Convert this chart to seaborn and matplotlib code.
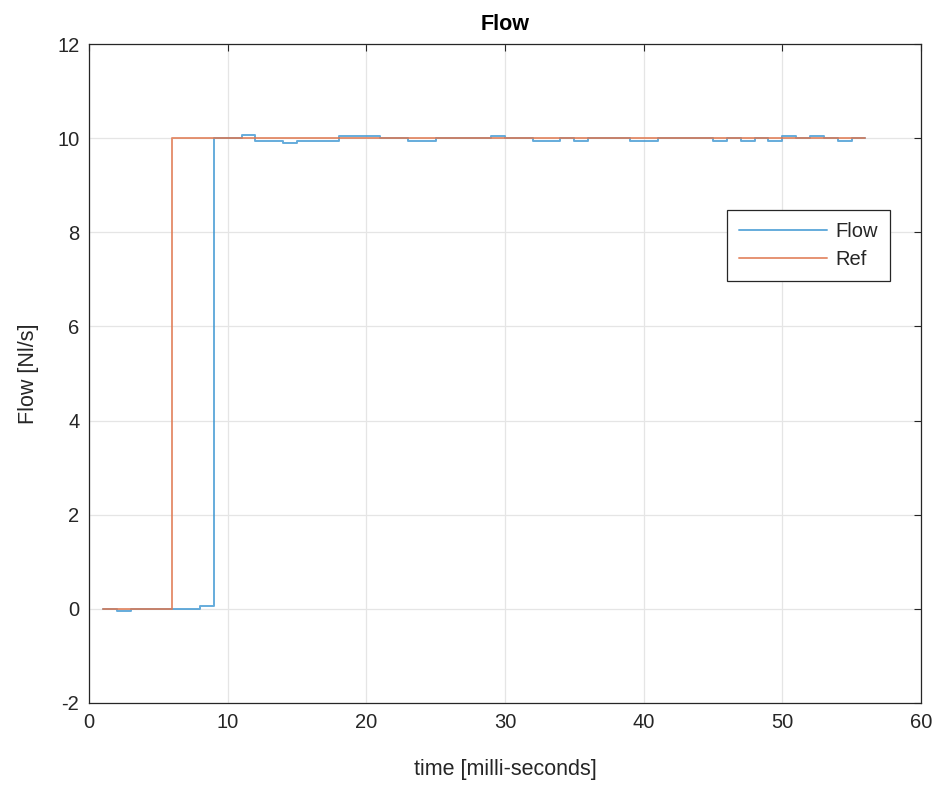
import numpy as np
import pandas as pd
import matplotlib
matplotlib.use("Agg")
import matplotlib.pyplot as plt
import seaborn as sns

# Sample times [ms]
time_ms = list(range(1, 57))

# Measured flow [Nl/s], one sample per millisecond (zero-order hold)
flow = [0.0, -0.05, 0.0, 0.0, 0.0, 0.0, 0.0, 0.05, 10.0, 10.0,
        10.06, 9.94, 9.94, 9.9, 9.94, 9.94, 9.94, 10.04, 10.04, 10.04,
        10.0, 10.0, 9.95, 9.95, 10.0, 10.0, 10.0, 10.0, 10.04, 10.0,
        10.0, 9.95, 9.95, 10.0, 9.95, 10.0, 10.0, 10.0, 9.95, 9.95,
        10.0, 10.0, 10.0, 10.0, 9.95, 10.0, 9.95, 10.0, 9.95, 10.04,
        10.0, 10.04, 10.0, 9.95, 10.0, 10.0]

# Reference set-point [Nl/s]
ref = [0.0] * 5 + [10.0] * 51

x_ticks = [0, 10, 20, 30, 40, 50, 60]
y_ticks = [-2, 0, 2, 4, 6, 8, 10, 12]

df = pd.DataFrame({
    "time": time_ms * 2,
    "value": flow + ref,
    "signal": ["Flow"] * len(flow) + ["Ref"] * len(ref),
})

sns.set_style("white")
plt.rcParams["font.family"] = ["Liberation Sans", "DejaVu Sans"]

fig = plt.figure(figsize=(9.41, 7.85), dpi=100)
ax = fig.add_axes([0.0946, 0.1045, 0.8841, 0.8394])

palette = {"Flow": "#3f97d3", "Ref": "#e0784f"}
sns.lineplot(data=df, x="time", y="value", hue="signal", palette=palette,
             drawstyle="steps-post", linewidth=1.4, alpha=0.8, ax=ax,
             legend=True)

ax.set_xlim(0, 60)
ax.set_ylim(-2, 12)
ax.set_xticks(x_ticks)
ax.set_yticks(y_ticks)
ax.set_xticklabels([str(v) for v in x_ticks])
ax.set_yticklabels([str(v) for v in y_ticks])

ax.grid(True, color="#e5e5e5", linewidth=0.9)
ax.set_axisbelow(True)
for side in ["top", "right", "bottom", "left"]:
    ax.spines[side].set_visible(True)
    ax.spines[side].set_color("#262626")
    ax.spines[side].set_linewidth(0.9)
ax.tick_params(direction="in", length=5, width=0.8, colors="#262626",
               labelsize=14.5, pad=7, top=True, right=True,
               labeltop=False, labelright=False)

ax.set_xlabel("time [milli-seconds]", fontsize=15.5, color="#262626",
              labelpad=20)
ax.set_ylabel("Flow [Nl/s]", fontsize=15.5, color="#262626", labelpad=13)
ax.set_title("Flow", fontsize=15.5, fontweight="bold", color="black", pad=10)

handles, labels = ax.get_legend_handles_labels()
leg = ax.legend(handles, labels, loc="upper left",
                bbox_to_anchor=(0.7665, 0.748), borderaxespad=0,
                fontsize=14.5, frameon=True,
                fancybox=False, edgecolor="#262626", framealpha=1,
                handlelength=4.4, handletextpad=0.4, borderpad=0.6,
                labelspacing=0.45, markerfirst=True)
leg.get_frame().set_linewidth(0.9)
for t in leg.get_texts():
    t.set_color("#262626")

fig.savefig("out.png", dpi=100)
